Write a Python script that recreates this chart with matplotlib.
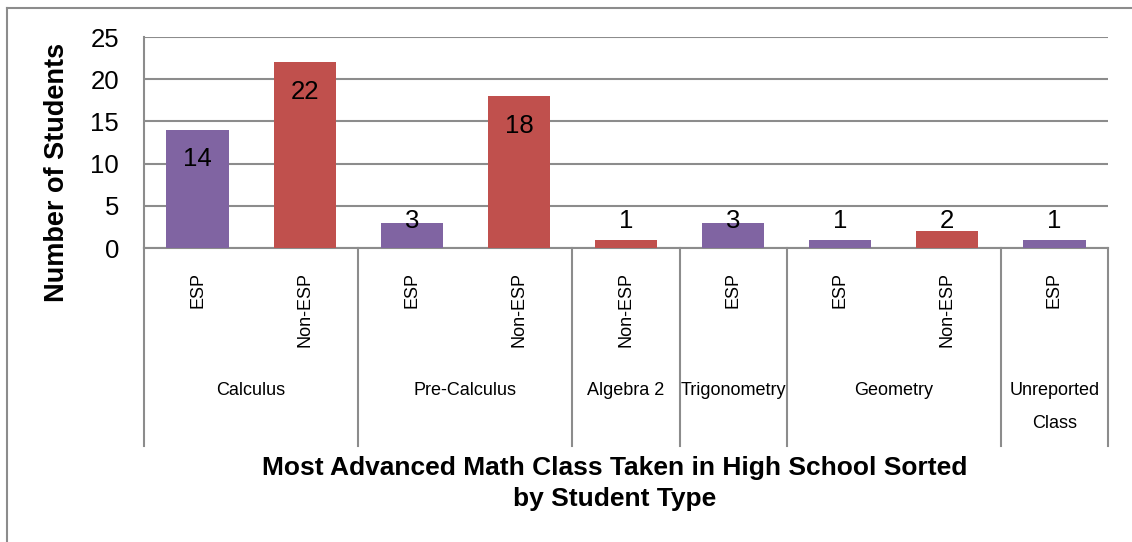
import matplotlib.pyplot as plt
import matplotlib.transforms as mtransforms
from matplotlib.lines import Line2D

plt.rcParams['font.family'] = ['Liberation Sans', 'DejaVu Sans']

# data
groups = ["Calculus", "Pre-Calculus", "Algebra 2", "Trigonometry", "Geometry", "Unreported\nClass"]
group_sizes = [2, 2, 1, 1, 2, 1]
student_types = ["ESP", "Non-ESP", "ESP", "Non-ESP", "Non-ESP", "ESP", "ESP", "Non-ESP", "ESP"]
counts = [14, 22, 3, 18, 1, 3, 1, 2, 1]

type_colors = {"ESP": "#8064A2", "Non-ESP": "#C0504D"}
grid_color = "#8c8c8c"

fig = plt.figure(figsize=(11.32, 5.42), dpi=100)
ax = fig.add_axes([144 / 1132, 1 - 248 / 542, (1108 - 144) / 1132, (248 - 37) / 542])

x = list(range(len(counts)))
ax.bar(x, counts, width=0.58, color=[type_colors[t] for t in student_types], zorder=3)

# value labels (Excel-style: inside the top of tall bars, clamped for short ones)
for xi, v in zip(x, counts):
    ax.text(xi, max(v - 3.5, 3.2), str(v), ha='center', va='center', fontsize=18.5, zorder=4)

ax.set_xlim(-0.5, len(counts) - 0.5)
ax.set_ylim(0, 25)
ax.set_yticks([0, 5, 10, 15, 20, 25])
ax.yaxis.grid(True, color=grid_color, linewidth=1.5)
ax.set_axisbelow(True)
ax.set_xticks([])
ax.tick_params(axis='y', length=0, pad=18, labelsize=18.5)
for side in ['top', 'right']:
    ax.spines[side].set_visible(False)
ax.spines['left'].set_color(grid_color)
ax.spines['left'].set_linewidth(1.5)
ax.spines['bottom'].set_color(grid_color)
ax.spines['bottom'].set_linewidth(1.5)

# two-level category axis below the plot
trans = mtransforms.blended_transform_factory(ax.transData, fig.transFigure)
sep_bottom = 1 - 446 / 542
sep_top = 1 - 248 / 542
type_y = 1 - 272 / 542
group_y = 1 - 382 / 542

for xi, t in zip(x, student_types):
    ax.text(xi, type_y, t, transform=trans, rotation=90, ha='center', va='top', fontsize=13)

start = 0
edges = [-0.5]
for name, size in zip(groups, group_sizes):
    center = start + (size - 1) / 2
    ax.text(center, group_y, name, transform=trans, ha='center', va='top',
            fontsize=13, linespacing=2.2)
    start += size
    edges.append(start - 0.5)

for e in edges:
    ax.add_line(Line2D([e, e], [sep_bottom, sep_top], transform=trans,
                       color=grid_color, linewidth=1.5, clip_on=False))

fig.text(57 / 1132, 1 - 172 / 542, "Number of Students", rotation=90, ha='center', va='center',
         fontsize=19.5, fontweight='bold')
fig.text(615 / 1132, 1 - 456 / 542, "Most Advanced Math Class Taken in High School Sorted\nby Student Type",
         ha='center', va='top', fontsize=19, fontweight='bold', linespacing=1.35)

# outer chart border (top and left visible)
fig.add_artist(Line2D([7 / 1132, 7 / 1132], [0, 1 - 8 / 542], transform=fig.transFigure,
                      color=grid_color, linewidth=1.5))
fig.add_artist(Line2D([7 / 1132, 1], [1 - 8 / 542, 1 - 8 / 542], transform=fig.transFigure,
                      color=grid_color, linewidth=1.5))

fig.savefig("out.png", dpi=100)
